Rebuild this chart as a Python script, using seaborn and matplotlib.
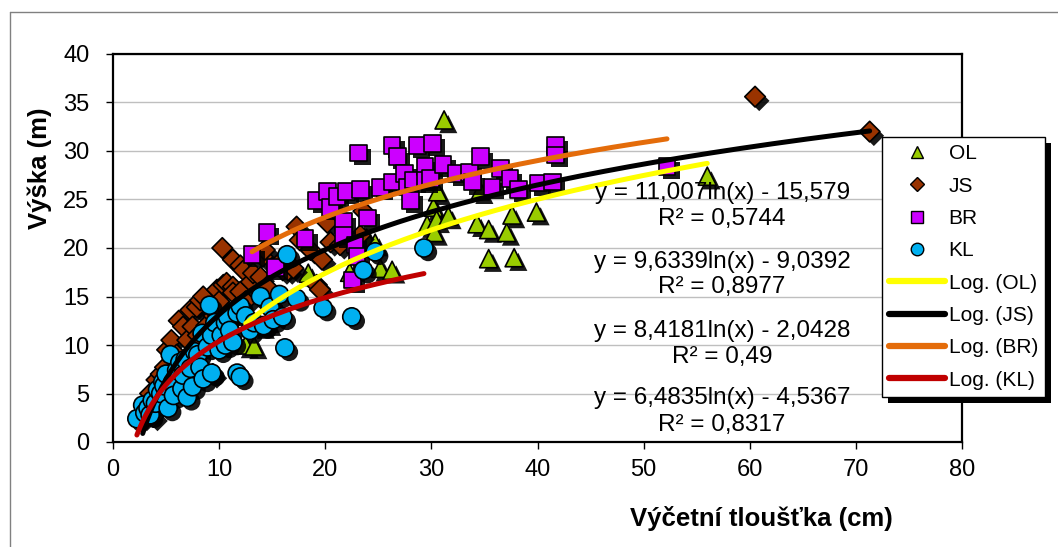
import numpy as np
import pandas as pd
import matplotlib
matplotlib.use("Agg")
import matplotlib.pyplot as plt
import seaborn as sns
from matplotlib import patheffects as pe
from matplotlib.lines import Line2D

# ---------------- data ----------------
series = ["OL", "JS", "BR", "KL"]

OL_x = [12.5, 13.3, 14.0, 14.6, 18.4, 22.3, 23.9, 24.7, 25.2, 26.3, 29.6, 30.2, 30.3, 30.5,
        30.6, 31.2, 31.6, 34.3, 34.6, 35.4, 35.4, 37.1, 37.6, 37.8, 39.9, 56.0]
OL_y = [10.0, 9.9, 12.0, 12.3, 17.4, 17.5, 21.0, 20.5, 17.9, 17.7, 22.4, 24.2, 21.6, 22.9,
        25.8, 33.2, 23.3, 22.5, 25.9, 21.9, 18.9, 21.6, 23.4, 19.0, 23.7, 27.4]

JS_x = [2.8, 3.2, 3.5, 3.8, 4.1, 4.5, 4.9, 5.1, 5.5, 6.0, 6.2, 6.6, 7.0, 7.3, 7.5,
        7.9, 8.0, 8.2, 8.5, 8.8, 9.4, 9.5, 9.8, 10.0, 10.3, 10.4, 10.7, 11.0, 11.3, 11.3,
        11.3, 12.0, 12.0, 12.3, 12.5, 13.0, 13.2, 13.9, 14.1, 14.3, 14.5, 15.0, 16.0, 16.0,
        16.5, 17.0, 17.3, 17.6, 18.6, 19.2, 19.5, 19.7, 20.2, 20.5, 21.4, 23.3, 23.6, 60.5, 71.3]
JS_y = [2.6, 4.0, 5.0, 2.6, 6.4, 7.0, 7.7, 9.5, 10.5, 9.0, 12.5, 11.9, 10.5, 13.6, 11.9,
        13.9, 11.0, 14.6, 15.0, 12.0, 7.0, 13.0, 15.7, 14.5, 20.0, 16.2, 16.4, 13.0, 18.8, 16.0,
        15.4, 15.5, 18.2, 17.7, 14.5, 16.5, 17.4, 17.0, 19.1, 19.8, 16.0, 14.0, 17.7, 18.8,
        17.7, 17.9, 22.2, 20.8, 19.8, 16.2, 15.7, 18.8, 22.6, 20.6, 20.3, 21.3, 23.8, 35.6, 32.0]

BR_x = [13.1, 14.5, 15.3, 18.1, 19.2, 20.2, 20.5, 21.1, 21.7, 21.7, 22.0, 22.6, 22.8, 23.0,
        23.1, 23.3, 24.0, 25.2, 26.3, 26.3, 26.8, 27.5, 27.7, 28.0, 28.3, 28.7, 29.4, 29.4,
        29.9, 30.1, 31.1, 32.4, 33.6, 33.9, 34.6, 35.7, 36.5, 37.4, 38.2, 40.1, 41.4, 41.7,
        41.7, 52.2]
BR_y = [19.3, 21.6, 18.0, 21.0, 24.9, 25.8, 24.2, 25.3, 22.7, 21.3, 25.8, 16.7, 20.3, 19.1,
        29.8, 26.0, 23.1, 26.2, 26.8, 30.6, 29.4, 27.7, 26.3, 24.9, 27.0, 30.6, 28.4, 27.0,
        27.2, 30.8, 28.6, 27.7, 27.8, 26.8, 29.4, 26.3, 28.2, 27.2, 26.0, 26.7, 26.8, 30.6,
        29.6, 28.4]

KL_x = [2.25, 2.8, 3.0, 3.3, 3.5, 3.7, 4.0, 4.2, 4.5, 4.7, 4.8, 5.0, 5.2, 5.4, 5.6,
        5.7, 6.0, 6.3, 6.5, 6.6, 6.8, 7.0, 7.3, 7.5, 7.7, 8.0, 8.2, 8.4, 8.5, 8.9,
        9.1, 9.3, 9.3, 9.6, 10.0, 10.2, 10.6, 10.6, 10.8, 11.0, 11.3, 11.7, 11.7, 12.0, 12.0,
        12.5, 12.9, 13.3, 13.9, 14.2, 14.8, 15.1, 15.7, 16.0, 16.2, 16.4, 17.3, 19.8, 22.5,
        23.6, 24.7, 29.3]
KL_y = [2.4, 3.8, 3.0, 3.5, 2.8, 4.3, 4.0, 5.4, 5.0, 6.2, 5.8, 7.0, 3.5, 9.0, 6.1,
        4.8, 7.4, 8.2, 5.5, 6.9, 8.5, 4.6, 7.6, 5.7, 9.3, 9.0, 7.7, 11.2, 6.5, 9.8,
        14.1, 11.0, 7.1, 12.3, 9.5, 11.0, 12.3, 10.0, 12.9, 11.5, 10.3, 13.3, 7.1, 6.7, 14.0,
        13.0, 11.5, 12.3, 15.0, 12.0, 13.9, 12.6, 15.2, 12.9, 9.7, 19.3, 14.8, 13.8, 12.9,
        17.7, 19.6, 20.0]

# logarithmic trendlines y = a*ln(x) + b
trend_a = [11.007, 9.6339, 8.4181, 6.4835]
trend_b = [-15.579, -9.0392, -2.0428, -4.5367]
trend_r2 = [0.5744, 0.8977, 0.49, 0.8317]

x_ticks = [0, 10, 20, 30, 40, 50, 60, 70, 80]
y_ticks = [0, 5, 10, 15, 20, 25, 30, 35, 40]

# ---------------- style ----------------
marker_of = {"OL": "^", "JS": "D", "BR": "s", "KL": "o"}
size_of = {"OL": 170, "JS": 110, "BR": 145, "KL": 170}
fill_of = {"OL": "#99CC00", "JS": "#993300", "BR": "#CC00FF", "KL": "#00B0F0"}
trend_color = {"OL": "#FFFF00", "JS": "#000000", "BR": "#E46C0A", "KL": "#C00000"}
# centres (data coords) of the equation labels
eq_pos = {"OL": (57.4, 25.7, 23.0), "JS": (57.4, 18.6, 16.0),
          "BR": (57.4, 11.4, 8.8), "KL": (57.4, 4.5, 1.75)}

sns.set_theme(style="white")
plt.rcParams["font.family"] = ["Liberation Sans", "DejaVu Sans"]

fig = plt.figure(figsize=(10.58, 5.47), dpi=100)
fig.patch.set_facecolor("white")
ax = fig.add_axes([113 / 1058, 105 / 547, 849 / 1058, 388 / 547])

xs_all = {"OL": OL_x, "JS": JS_x, "BR": BR_x, "KL": KL_x}
ys_all = {"OL": OL_y, "JS": JS_y, "BR": BR_y, "KL": KL_y}
frames = [pd.DataFrame({"x": xs_all[s], "y": ys_all[s], "series": s}) for s in series]
df = pd.concat(frames, ignore_index=True)

shadow = [pe.SimplePatchShadow(offset=(3.0, -3.0), shadow_rgbFace="black", alpha=0.9), pe.Normal()]

for s in series:
    sub = df[df["series"] == s]
    n_before = len(ax.collections)
    sns.scatterplot(data=sub, x="x", y="y", marker=marker_of[s], s=size_of[s],
                    color=fill_of[s], edgecolor="black", linewidth=1.2,
                    legend=False, ax=ax, zorder=3)
    for coll in ax.collections[n_before:]:
        coll.set_path_effects(shadow)

# trendlines computed from the equation coefficients over each series' x range
for s, a, b in zip(series, trend_a, trend_b):
    sub = df[df["series"] == s]
    xx = np.linspace(sub["x"].min(), sub["x"].max(), 300)
    sns.lineplot(x=xx, y=a * np.log(xx) + b, color=trend_color[s], lw=3.6,
                 ax=ax, zorder=4, legend=False)

def fmt(v):
    return str(v).replace(".", ",")

for s, a, b, r2 in zip(series, trend_a, trend_b, trend_r2):
    xc, y1, y2 = eq_pos[s]
    sign = "-" if b < 0 else "+"
    ax.text(xc, y1, f"y = {fmt(a)}ln(x) {sign} {fmt(abs(b))}", ha="center", va="center",
            fontsize=17.5, color="black", zorder=6)
    ax.text(xc, y2, f"R² = {fmt(r2)}", ha="center", va="center",
            fontsize=17.5, color="black", zorder=6)

ax.set_xlim(0, 80)
ax.set_ylim(0, 40)
ax.set_xticks(x_ticks)
ax.set_yticks(y_ticks)
ax.set_xticklabels([str(t) for t in x_ticks])
ax.set_yticklabels([str(t) for t in y_ticks])
ax.yaxis.grid(True, color="#BFBFBF", lw=1)
ax.xaxis.grid(False)
ax.set_axisbelow(True)
for sp in ax.spines.values():
    sp.set_visible(True)
    sp.set_color("black")
    sp.set_linewidth(1.6)
ax.tick_params(axis="both", direction="out", length=5, width=1, color="black",
               labelsize=17, labelcolor="black")
ax.tick_params(axis="x", pad=7, bottom=True)
ax.tick_params(axis="y", pad=12, left=True)

ax.set_xlabel("Výčetní tloušťka (cm)", fontsize=18.5, fontweight="bold", color="black")
ax.set_ylabel("Výška (m)", fontsize=18.5, fontweight="bold", color="black")
ax.xaxis.set_label_coords(0.764, -0.198)
ax.xaxis.label.set_va("center")
ax.yaxis.set_label_coords(-0.086, 0.706)
ax.yaxis.label.set_va("center")
ax.yaxis.label.set_ha("center")

# legend
handles, labels = [], []
for s in series:
    handles.append(Line2D([], [], ls="none", marker=marker_of[s], ms=9 if s != "JS" else 7.5,
                          mfc=fill_of[s], mec="black", mew=1))
    labels.append(s)
for s in series:
    handles.append(Line2D([], [], color=trend_color[s], lw=4.5, solid_capstyle="round"))
    labels.append(f"Log. ({s})")
leg = ax.legend(handles, labels, loc="upper left",
                bbox_to_anchor=(882 / 1058, 1 - 137 / 547), bbox_transform=fig.transFigure,
                frameon=True, fancybox=False, edgecolor="black", framealpha=1,
                fontsize=15, handlelength=2.65, handletextpad=0.2, labelspacing=0.64,
                borderpad=0.35, borderaxespad=0)
leg.get_frame().set_linewidth(1)
leg.get_frame().set_path_effects([pe.SimplePatchShadow(offset=(4.3, -4.3), shadow_rgbFace="black",
                                                       alpha=1), pe.Normal()])
leg.set_zorder(10)
for t in leg.get_texts():
    t.set_color("black")

# chart-area border (left and top visible)
fig.add_artist(Line2D([10 / 1058, 10 / 1058], [0, 1 - 12 / 547], transform=fig.transFigure,
                      color="#808080", lw=1))
fig.add_artist(Line2D([10 / 1058, 1], [1 - 12 / 547, 1 - 12 / 547], transform=fig.transFigure,
                      color="#808080", lw=1))

fig.savefig("out.png", dpi=100, facecolor="white")
